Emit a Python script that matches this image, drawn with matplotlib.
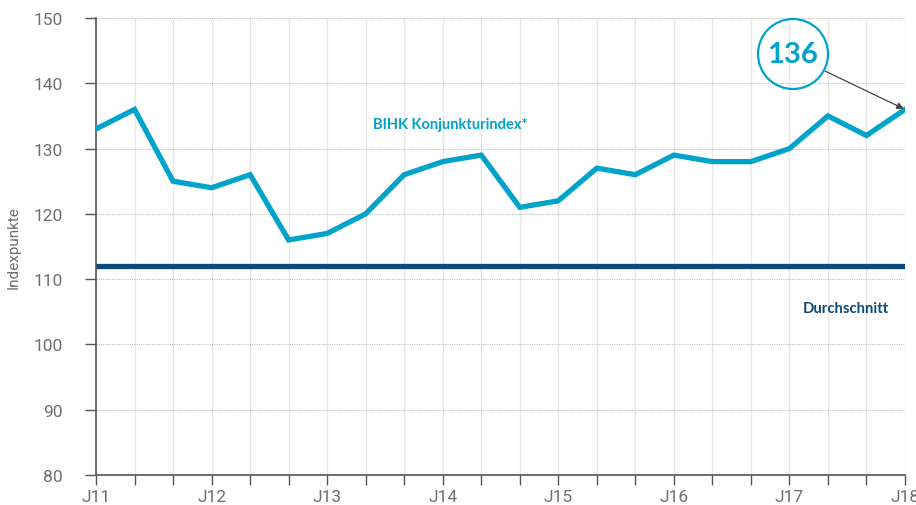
import matplotlib
matplotlib.use("Agg")
import matplotlib.pyplot as plt
from matplotlib.patches import Ellipse

# Data
tick_labels = ["J11", "J12", "J13", "J14", "J15", "J16", "J17", "J18"]
index_values = [133, 136, 125, 124, 126, 116, 117, 120, 126, 128, 129, 121,
                122, 127, 126, 129, 128, 128, 130, 135, 132, 136]
average_value = 112
y_ticks = [80, 90, 100, 110, 120, 130, 140, 150]

cyan = "#00a3c9"
navy = "#0b4a7c"
gray = "#6e6e6e"

plt.rcParams['font.family'] = ['Roboto', 'DejaVu Sans']

fig = plt.figure(figsize=(9.16, 5.06), dpi=100)
ax = fig.add_axes([96/916, 1-476/506, (905-96)/916, (476-19)/506])

x = list(range(len(index_values)))
n = len(index_values) - 1

# grid
for xi in x:
    ax.axvline(xi, color="#e6e6e6", lw=1.0, zorder=0)
for yv in y_ticks[1:]:
    ax.axhline(yv, color="#bdbdbd", lw=0.8, ls=(0, (1, 1)), zorder=0)

ax.plot(x, index_values, color=cyan, lw=3.8, solid_joinstyle="miter", zorder=3)
ax.plot([0, n], [average_value, average_value], color=navy, lw=3.8, zorder=2)

ax.set_xlim(0, n)
ax.set_ylim(80, 150)
ax.set_yticks(y_ticks)
ax.set_yticklabels([str(v) for v in y_ticks], fontsize=12.5, color=gray)
ax.set_xticks(x)
ax.set_xticklabels([tick_labels[i // 3] if i % 3 == 0 else "" for i in x],
                   fontsize=12.5, color=gray)
ax.tick_params(axis="x", length=7, width=1, color="#555555", pad=3, direction="out")
ax.tick_params(axis="y", length=8, width=1, color="#555555", pad=16, direction="out")
for s in ["top", "right"]:
    ax.spines[s].set_visible(False)
for s in ["left", "bottom"]:
    ax.spines[s].set_color("#555555")
    ax.spines[s].set_linewidth(1.2)

ax.set_ylabel("Indexpunkte", fontsize=11, color=gray, labelpad=9)

ax.text(9.2, 133.8, "BIHK Konjunkturindex*", color=cyan, fontsize=10.5,
        fontweight="bold", ha="center", va="center", family=["Lato", "DejaVu Sans"])
ax.text(19.47, 105.6, "Durchschnitt", color=navy, fontsize=10.7,
        fontweight="bold", ha="center", va="center", family=["Lato", "DejaVu Sans"])

# callout circle (drawn in figure pixel coords)
cx, cy, r = 793, 506 - 55, 35
circ = Ellipse((cx/916, cy/506), 2*r/916, 2*r/506, transform=fig.transFigure,
               fill=False, edgecolor=cyan, lw=1.6, zorder=5)
fig.patches.append(circ)
fig.text(cx/916, cy/506, "136", color=cyan, fontsize=21, fontweight="bold",
         ha="center", va="center", family=["Lato", "DejaVu Sans"])
ax.annotate("", xy=(n, index_values[-1]), xycoords="data",
            xytext=(825/916, (506-72)/506), textcoords="figure fraction",
            arrowprops=dict(arrowstyle="-|>", color="#444444", lw=0.9,
                            mutation_scale=10, shrinkA=0, shrinkB=1),
            annotation_clip=False, zorder=6)

fig.savefig("out.png", dpi=100)
